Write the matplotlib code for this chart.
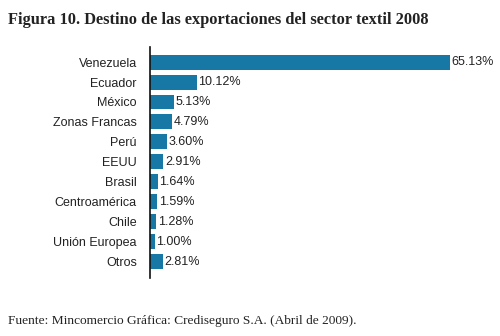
import matplotlib.pyplot as plt

# Destino de las exportaciones del sector textil 2008
destinos = ['Venezuela', 'Ecuador', 'México', 'Zonas Francas', 'Perú', 'EEUU',
            'Brasil', 'Centroamérica', 'Chile', 'Unión Europea', 'Otros']
porcentajes = [65.13, 10.12, 5.13, 4.79, 3.60, 2.91, 1.64, 1.59, 1.28, 1.00, 2.81]

bar_color = '#1778a6'

fig = plt.figure(figsize=(5, 3.36), dpi=100)
ax = fig.add_axes([0.3, 0.173, 0.69, 0.687])

pos = list(range(len(destinos)))
ax.barh(pos, porcentajes, height=0.75, color=bar_color)
for p, v in zip(pos, porcentajes):
    ax.text(v + 0.4, p, f'{v:.2f}%', va='center', ha='left',
            fontsize=9, family='Liberation Sans', color='#222222')

ax.set_xlim(0, 75)
ax.set_ylim(10.8, -0.75)
ax.set_yticks(pos)
ax.set_yticklabels(destinos, fontsize=9, family='Liberation Sans', color='#222222')
ax.tick_params(axis='y', length=0, pad=9.5)
ax.set_xticks([])
for s in ['top', 'right', 'bottom']:
    ax.spines[s].set_visible(False)
ax.spines['left'].set_linewidth(1.2)
ax.spines['left'].set_color('#111111')

fig.text(0.016, 0.965, 'Figura 10. Destino de las exportaciones del sector textil 2008',
         ha='left', va='top', fontsize=11.8, family='Liberation Serif',
         fontweight='bold', color='#222222')
fig.text(0.016, 0.045, 'Fuente: Mincomercio Gráfica: Crediseguro S.A. (Abril de 2009).',
         ha='left', va='center', fontsize=9.6, family='Liberation Serif', color='#222222')

fig.savefig('out.png', dpi=100)
